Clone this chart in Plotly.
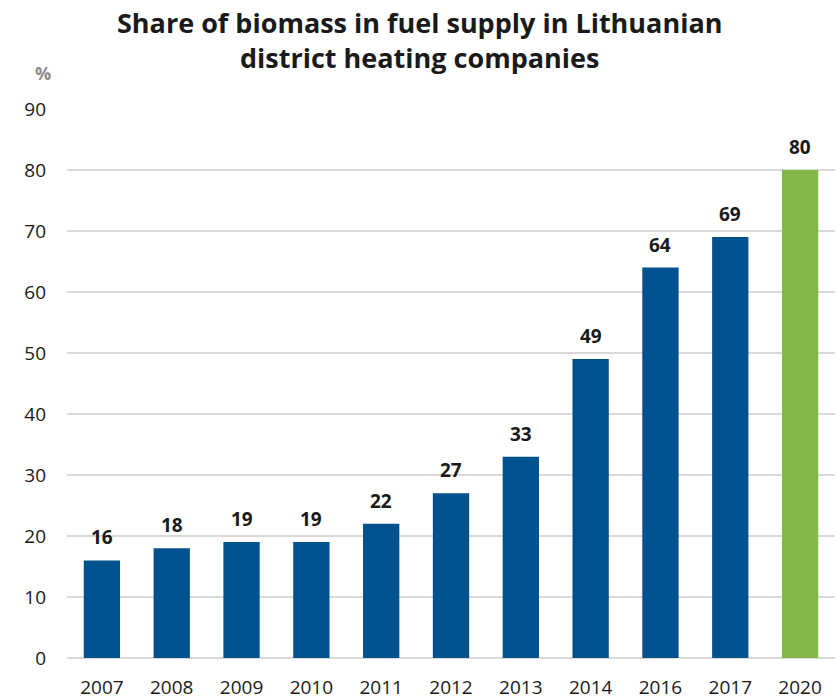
import plotly.graph_objects as go

years = ["2007", "2008", "2009", "2010", "2011", "2012", "2013", "2014", "2016", "2017", "2020"]
shares = [16, 18, 19, 19, 22, 27, 33, 49, 64, 69, 80]
bar_colors = ["#00528F"] * 10 + ["#84B74A"]
y_ticks = [0, 10, 20, 30, 40, 50, 60, 70, 80, 90]

FONT = "Open Sans, Liberation Sans, sans-serif"

fig = go.Figure(go.Bar(
    x=years, y=shares,
    marker=dict(color=bar_colors, line=dict(width=0)),
    width=0.52,
))

annotations = [dict(
    x=i, y=v, xref="x", yref="y", text=f"<b>{v}</b>", showarrow=False,
    xanchor="center", yanchor="bottom", yshift=8,
    font=dict(family=FONT, size=19, color="#1a1a1a"),
) for i, v in enumerate(shares)]

annotations.append(dict(
    text="<b>Share of biomass in fuel supply in Lithuanian<br>district heating companies</b>",
    xref="paper", yref="paper", x=0.4596, y=1.195, xanchor="center", yanchor="top",
    showarrow=False, align="center",
    font=dict(family=FONT, size=27, color="#1a1a1a"),
))
annotations.append(dict(
    text="<b>%</b>", xref="paper", yref="paper", x=-0.031, y=1.0656,
    xanchor="center", yanchor="middle", showarrow=False,
    font=dict(family=FONT, size=18, color="#8C8C8C"),
))

fig.update_layout(
    width=839, height=699,
    margin=dict(l=67, r=4, t=109, b=41),
    paper_bgcolor="white", plot_bgcolor="white",
    showlegend=False,
    xaxis=dict(
        type="category", range=[-0.5, len(years) - 0.5],
        showgrid=False, showline=False, ticks="", automargin=False,
        ticklabelstandoff=16,
        tickfont=dict(family=FONT, size=19, color="#1a1a1a"),
    ),
    yaxis=dict(
        range=[0, 90], tickvals=y_ticks, showgrid=True, gridcolor="#D9D9D9", gridwidth=1.5,
        zeroline=True, zerolinecolor="#D9D9D9", zerolinewidth=1.5,
        showline=False, ticks="", ticklabelstandoff=20, automargin=False,
        tickfont=dict(family=FONT, size=19, color="#1a1a1a"),
    ),
    bargap=0.48,
    annotations=annotations,
)

fig.write_html("out.html", config={"displayModeBar": False},
               post_script="document.body.style.margin='0';")
